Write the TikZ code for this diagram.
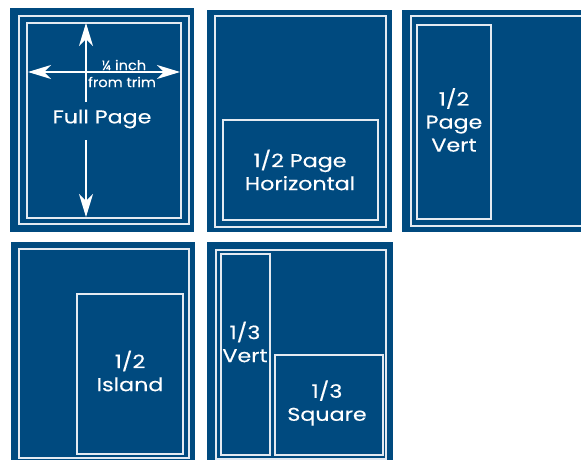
\documentclass[tikz,border=0pt]{standalone}
\usepackage{fontspec}
\setmainfont{Poppins}
\usepackage{xcolor}
\usetikzlibrary{arrows.meta}
\definecolor{adblue}{HTML}{004A7F}
\definecolor{trimline}{HTML}{E4EAF1}
\newfontfamily\adfont[FakeStretch=1.2, FakeBold=0.3]{Poppins}
\newfontfamily\adsmall[FakeStretch=1.08, FakeBold=0.2]{Poppins}

\begin{document}
\begin{tikzpicture}[x=1pt, y=-1pt]
\tikzstyle{panel}=[fill=adblue]
\tikzstyle{frame}=[draw=trimline, line width=1.2pt]
\tikzstyle{label}=[text=white, align=center, font=\adfont\fontsize{18.5}{23}\selectfont]
\tikzstyle{small}=[text=white, align=center, font=\adsmall\fontsize{13.5}{16}\selectfont]
\tikzstyle{measure}=[draw=white, line width=1.2pt]
\useasboundingbox (0,0) rectangle (581,460);

% full page
\fill[panel] (10,8) rectangle (194,232);
\draw[frame] (19,16) rectangle (189,224);
\draw[frame] (27,23) rectangle (181,218);
\node[small] (quarter) at (124,65) {¼ inch};
\node[small] (trim) at (122,82) {from trim};
\node[label] (full) at (102,119) {Full Page};
\coordinate (up1) at (86,102);
\coordinate (up2) at (86,23);
\coordinate (dn1) at (86,140);
\coordinate (dn2) at (86,217);
\coordinate (lt) at (28,72);
\coordinate (rt) at (180,72);
\draw[measure, -{Stealth[length=23pt, width=14pt, inset=7pt]}] (up1) -- (up2);
\draw[measure, -{Stealth[length=23pt, width=14pt, inset=7pt]}] (dn1) -- (dn2);
\draw[measure, {Stealth[length=23pt, width=14pt, inset=7pt]}-{Stealth[length=23pt, width=14pt, inset=7pt]}] (lt) -- (rt);

% half page horizontal
\fill[panel] (207,10) rectangle (392,232);
\draw[frame] (215,16) rectangle (386,227);
\draw[frame] (223,120) rectangle (378,220);
\node[label] (halfh) at (300,170) {1/2 Page\\Horizontal};

% half page vertical
\fill[panel] (402,10) rectangle (581,232);
\draw[frame] (411,16) rectangle (590,226);
\draw[frame] (417,25) rectangle (491,219);
\node[label] (halfv) at (454,120) {1/2\\Page\\Vert};

% half island
\fill[panel] (11,242) rectangle (195,460);
\draw[frame] (19,249) rectangle (189,458);
\draw[frame] (77,294) rectangle (183,454);
\node[label] (island) at (130,371) {1/2\\Island};

% thirds
\fill[panel] (207,242) rectangle (393,460);
\draw[frame] (216,250) rectangle (386,459);
\draw[frame] (221,254) rectangle (270,455);
\draw[frame] (275,355) rectangle (383,455);
\node[label] (thirdv) at (245,342) {1/3\\Vert};
\node[label] (thirds) at (327,403) {1/3\\Square};
\end{tikzpicture}
\end{document}
